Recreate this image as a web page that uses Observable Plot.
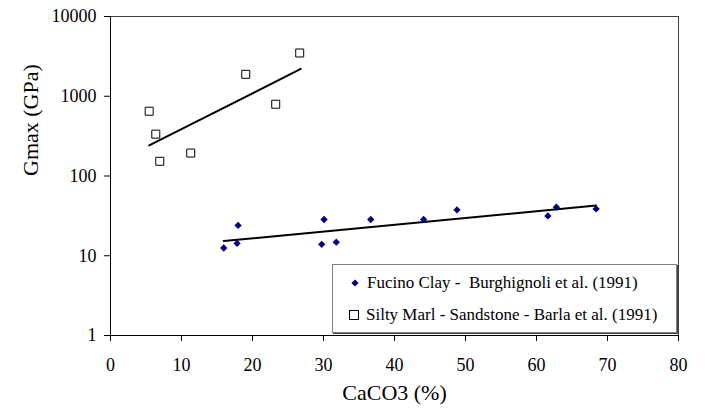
<!DOCTYPE html>
<html>
<head>
<meta charset="utf-8">
<script src="https://cdn.jsdelivr.net/npm/d3@7"></script>
<script src="https://cdn.jsdelivr.net/npm/@observablehq/plot@0.6"></script>
<style>
  body { margin: 0; background: #fff; }
  #wrap { position: relative; width: 708px; height: 408px; font-family: "Liberation Serif", "Times New Roman", serif; }
  #legend { position: absolute; left: 332px; top: 264px; width: 343px; height: 67px; border: 1px solid #808080; box-shadow: 1px 1px 0 #404040; background: #fff; font-size: 17px; color: #000; }
  .row { position: absolute; left: 14px; height: 20px; display: flex; align-items: center; white-space: pre; }
  .row svg { margin-right: 5px; }
</style>
</head>
<body>
<div id="wrap"></div>
<script>
const fucinoX = [15.95, 17.97, 17.83, 30.08, 29.75, 31.8, 36.65, 44.1, 48.8, 61.6, 62.8, 68.4];
const fucinoY = [12.5, 24, 14.3, 28.5, 13.9, 14.8, 28.5, 28.5, 37.6, 31.6, 40.7, 38.7];
const marlX = [5.45, 6.38, 6.94, 11.3, 19.05, 23.27, 26.65];
const marlY = [649, 335, 153, 194, 1884, 794, 3487];
const fucinoTrendX = [15.95, 68.4];
const fucinoTrendY = [15.3, 42.6];
const marlTrendX = [5.45, 26.8];
const marlTrendY = [242, 2200];
const xTicks = [0, 10, 20, 30, 40, 50, 60, 70, 80];
const yTicks = [1, 10, 100, 1000, 10000];
const seriesNames = ["Fucino Clay -  Burghignoli et al. (1991)", "Silty Marl - Sandstone - Barla et al. (1991)"];

const fucino = fucinoX.map((x, i) => ({x, y: fucinoY[i]}));
const marl = marlX.map((x, i) => ({x, y: marlY[i]}));
const fTrend = fucinoTrendX.map((x, i) => ({x, y: fucinoTrendY[i]}));
const mTrend = marlTrendX.map((x, i) => ({x, y: marlTrendY[i]}));

const chart = Plot.plot({
  width: 708,
  height: 408,
  marginLeft: 110,
  marginRight: 30,
  marginTop: 16,
  marginBottom: 73,
  style: { fontFamily: '"Liberation Serif", "Times New Roman", serif', fontSize: "18px", color: "#000", background: "#fff" },
  x: { domain: [0, 80] },
  y: { type: "log", domain: [1, 10000] },
  marks: [
    Plot.frame({ stroke: "#404040" }),
    Plot.ruleX([0], { stroke: "#000" }),
    Plot.ruleY([1], { stroke: "#000" }),
    Plot.axisX({ ticks: xTicks, tickFormat: d => String(d), tickSize: 6, tickPadding: 17, label: null, fontSize: 18 }),
    Plot.axisY({ ticks: yTicks, tickFormat: d => String(d), tickSize: 6, tickPadding: 8, label: null, fontSize: 18 }),
    Plot.line(mTrend, { x: "x", y: "y", stroke: "#000", strokeWidth: 2 }),
    Plot.line(fTrend, { x: "x", y: "y", stroke: "#000", strokeWidth: 2 }),
    Plot.dot(marl, { x: "x", y: "y", symbol: "square", r: 4.5, stroke: "#000", strokeWidth: 1, fill: "#fff" }),
    Plot.dot(fucino, { x: "x", y: "y", symbol: "diamond2", r: 3.3, fill: "#000080", stroke: "none" }),
    Plot.text(["CaCO3 (%)"], { frameAnchor: "bottom", dy: 57, lineAnchor: "middle", fontSize: 22, fill: "#000" }),
    Plot.text(["Gmax (GPa)"], { frameAnchor: "left", dx: -80, rotate: -90, lineAnchor: "middle", fontSize: 22, fill: "#000" })
  ]
});
const wrap = document.getElementById("wrap");
wrap.appendChild(chart);

const legend = document.createElement("div");
legend.id = "legend";
const symbols = [
  '<svg width="14" height="14" viewBox="-7 -7 14 14"><path d="M0,-3.6L3.6,0L0,3.6L-3.6,0Z" fill="#000080"/></svg>',
  '<svg width="14" height="14" viewBox="-7 -7 14 14"><rect x="-4.5" y="-4.5" width="9" height="9" fill="#fff" stroke="#000" stroke-width="1"/></svg>'
];
const tops = [8, 40];
seriesNames.forEach((name, i) => {
  const row = document.createElement("div");
  row.className = "row";
  row.style.top = tops[i] + "px";
  row.style.left = (i === 0 ? 15 : 14) + "px";
  row.innerHTML = symbols[i] + '<span>' + name + '</span>';
  legend.appendChild(row);
});
wrap.appendChild(legend);
</script>
</body>
</html>
